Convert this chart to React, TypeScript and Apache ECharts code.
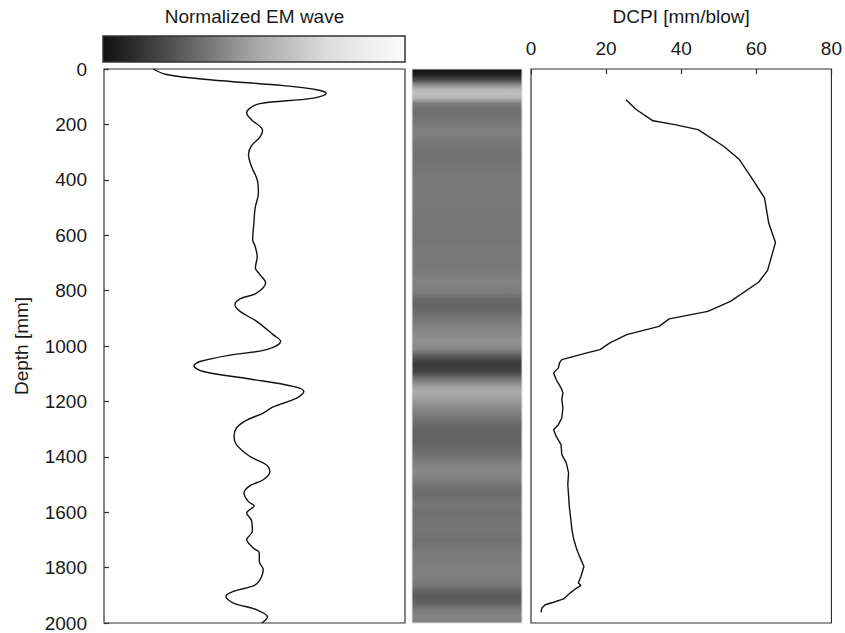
import React, { useEffect, useRef } from "react";
import * as echarts from "echarts";

// Normalized EM wave (amplitude 0..1) versus depth [mm]
const waveDepth = [0, 20, 39, 60, 75, 88, 105, 125, 141, 159, 183, 222, 246, 277, 309, 352, 400, 448, 502, 556, 616, 640, 676, 718, 742, 772, 809, 830, 851, 875, 911, 959, 983, 1013, 1031, 1056, 1071, 1092, 1119, 1146, 1164, 1188, 1220, 1242, 1268, 1296, 1326, 1356, 1399, 1428, 1453, 1483, 1504, 1531, 1561, 1577, 1603, 1630, 1669, 1699, 1729, 1747, 1778, 1807, 1844, 1865, 1886, 1904, 1928, 1952, 1978, 2000];
const waveAmp = [0.164, 0.208, 0.352, 0.596, 0.707, 0.738, 0.695, 0.518, 0.485, 0.474, 0.49, 0.527, 0.518, 0.49, 0.48, 0.49, 0.509, 0.513, 0.502, 0.498, 0.494, 0.502, 0.509, 0.503, 0.518, 0.537, 0.507, 0.452, 0.435, 0.452, 0.507, 0.562, 0.587, 0.54, 0.43, 0.319, 0.299, 0.33, 0.485, 0.629, 0.664, 0.64, 0.562, 0.529, 0.474, 0.44, 0.432, 0.44, 0.485, 0.538, 0.551, 0.529, 0.485, 0.465, 0.479, 0.499, 0.474, 0.49, 0.493, 0.474, 0.496, 0.516, 0.516, 0.529, 0.518, 0.498, 0.43, 0.405, 0.43, 0.507, 0.543, 0.524];

// DCPI [mm/blow] versus depth [mm]
const dcpiDepth = [111, 147, 187, 201, 219, 279, 327, 400, 466, 556, 626, 727, 770, 839, 875, 902, 929, 959, 989, 1013, 1025, 1049, 1061, 1079, 1097, 1121, 1151, 1169, 1193, 1223, 1260, 1284, 1302, 1326, 1356, 1392, 1422, 1458, 1500, 1579, 1663, 1693, 1735, 1765, 1796, 1832, 1856, 1865, 1877, 1892, 1913, 1925, 1934, 1946, 1962];
const dcpiValue = [25.3, 28.1, 32.5, 38.3, 44.5, 51.3, 55.5, 59.1, 62.2, 63.3, 65.1, 63.0, 60.6, 53.1, 47.1, 36.8, 34.1, 25.5, 21.0, 18.4, 14.9, 8.2, 7.6, 7.3, 6.0, 6.7, 8.0, 8.5, 8.2, 8.5, 8.2, 7.3, 6.0, 6.7, 8.0, 8.2, 9.4, 10.0, 9.8, 10.2, 10.9, 11.3, 12.2, 13.1, 14.1, 13.3, 12.6, 13.3, 11.8, 10.4, 8.7, 6.0, 3.8, 2.9, 2.7];

const FONT = "Liberation Sans";
const TEXT = "#1a1a1a";
const FRAME = "#333333";

function grayOf(v: number): string {
  const g = Math.max(0, Math.min(255, Math.round(305 * v - 33)));
  return `rgb(${g},${g},${g})`;
}

export default function App() {
  const ref = useRef<HTMLDivElement>(null);
  useEffect(() => {
    if (!ref.current) return;
    const chart = echarts.init(ref.current, undefined, { renderer: "svg" });
    const gridBox = { show: true, borderColor: FRAME, borderWidth: 1.2, backgroundColor: "transparent" };
    const plain = (v: number) => String(v);
    const option: any = {
      animation: false,
      backgroundColor: "#ffffff",
      textStyle: { fontFamily: FONT, color: TEXT },
      grid: [
        { left: 104, top: 69, width: 301, height: 554, ...gridBox },
        { left: 412, top: 69, width: 110, height: 554, show: false },
        { left: 531, top: 69, width: 301, height: 554, ...gridBox },
      ],
      xAxis: [
        {
          gridIndex: 0, type: "value", min: 0, max: 1, position: "top",
          name: "Normalized EM wave", nameLocation: "middle", nameGap: 43,
          nameTextStyle: { fontSize: 19, color: TEXT, fontFamily: FONT },
          axisLine: { show: false }, axisTick: { show: false }, axisLabel: { show: false }, splitLine: { show: false },
        },
        { gridIndex: 1, type: "value", min: 0, max: 1, show: false },
        {
          gridIndex: 2, type: "value", min: 0, max: 80, interval: 20, position: "top",
          name: "DCPI [mm/blow]", nameLocation: "middle", nameGap: 43,
          nameTextStyle: { fontSize: 19, color: TEXT, fontFamily: FONT },
          axisLine: { show: false },
          axisTick: { show: true, inside: true, length: 5, lineStyle: { color: FRAME, width: 1.2 } },
          axisLabel: { fontSize: 19, color: TEXT, margin: 11, fontFamily: FONT, formatter: plain },
          splitLine: { show: false },
        },
      ],
      yAxis: [
        {
          gridIndex: 0, type: "value", inverse: true, min: 0, max: 2000, interval: 200,
          name: "Depth [mm]", nameLocation: "middle", nameGap: 73,
          nameTextStyle: { fontSize: 19, color: TEXT, fontFamily: FONT },
          axisLine: { show: false },
          axisTick: { show: true, inside: true, length: 5, lineStyle: { color: FRAME, width: 1.2 } },
          axisLabel: { fontSize: 19, color: TEXT, margin: 17, fontFamily: FONT, formatter: plain },
          splitLine: { show: false },
        },
        { gridIndex: 1, type: "value", inverse: true, min: 0, max: 2000, show: false },
        {
          gridIndex: 2, type: "value", inverse: true, min: 0, max: 2000,
          axisLine: { show: false }, axisTick: { show: false }, axisLabel: { show: false }, splitLine: { show: false },
        },
      ],
      series: [
        {
          type: "line", xAxisIndex: 0, yAxisIndex: 0,
          data: waveDepth.map((d, i) => [waveAmp[i], d]),
          smooth: 0.35, showSymbol: false, symbol: "none",
          lineStyle: { color: "#111111", width: 1.4 },
        },
        {
          type: "custom", xAxisIndex: 1, yAxisIndex: 1,
          data: [[0, 0]],
          renderItem: (_params: any, api: any) => {
            const p0 = api.coord([0, 0]);
            const p1 = api.coord([1, 2000]);
            const h = p1[1] - p0[1];
            const stops = waveDepth.map((d, i) => ({
              offset: Math.max(0, Math.min(1, (api.coord([0, d])[1] - p0[1]) / h)),
              color: grayOf(waveAmp[i]),
            }));
            return {
              type: "rect",
              shape: { x: p0[0], y: p0[1], width: p1[0] - p0[0], height: h },
              style: { fill: new echarts.graphic.LinearGradient(0, 0, 0, 1, stops), stroke: "#e0e0e0", lineWidth: 1 },
            };
          },
        },
        {
          type: "line", xAxisIndex: 2, yAxisIndex: 2,
          data: dcpiDepth.map((d, i) => [dcpiValue[i], d]),
          showSymbol: false, symbol: "none",
          lineStyle: { color: "#111111", width: 1.4 },
        },
      ],
      graphic: [
        {
          type: "rect",
          shape: { x: 103, y: 36, width: 302, height: 26 },
          style: {
            fill: new echarts.graphic.LinearGradient(0, 0, 1, 0, [
              { offset: 0, color: "#111111" },
              { offset: 0.1, color: "#2c2c2c" },
              { offset: 0.25, color: "#585858" },
              { offset: 0.5, color: "#a6a6a6" },
              { offset: 0.75, color: "#dedede" },
              { offset: 1, color: "#fcfcfc" },
            ]),
            stroke: FRAME,
            lineWidth: 1.5,
          },
        },
      ],
    };
    chart.setOption(option);
    return () => chart.dispose();
  }, []);
  return (
    <div
      ref={ref}
      style={{ position: "fixed", left: 0, top: 0, width: 845, height: 633, background: "#fff" }}
    />
  );
}
